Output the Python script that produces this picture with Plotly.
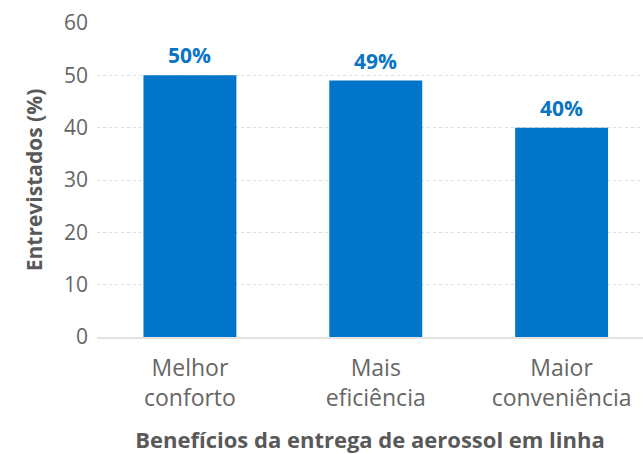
import plotly.graph_objects as go

categories = ["Melhor<br>conforto", "Mais<br>eficiência", "Maior<br>conveniência"]
values = [50, 49, 40]
labels = ["50%", "49%", "40%"]

BLUE = "#0075C9"
FONT = "Open Sans"

fig = go.Figure()
fig.add_trace(go.Bar(
    x=categories, y=values, width=0.5,
    marker=dict(color=BLUE, line=dict(width=0)),
    text=labels, textposition="none", hoverinfo="skip",
))
for c, v, t in zip(categories, values, labels):
    fig.add_annotation(x=c, y=v, text=f"<b>{t}</b>", showarrow=False,
                       yanchor="bottom", yshift=4,
                       font=dict(family=FONT, size=21, color="#0A74C4"))

fig.update_layout(
    width=643, height=454,
    margin=dict(l=97, r=0, t=23, b=117),
    plot_bgcolor="white", paper_bgcolor="white",
    showlegend=False,
    font=dict(family=FONT, color="#666666"),
    xaxis=dict(
        range=[-0.5, 2.438],
        showgrid=False, showline=True, linecolor="#e3e3e3", linewidth=2,
        ticks="", ticklabelstandoff=9,
        tickfont=dict(size=23, color="#666666"),
        title=dict(text="<b>Benefícios da entrega de aerossol em linha</b>",
                   font=dict(size=22, color="#595959"), standoff=23),
    ),
    yaxis=dict(
        range=[0, 60], dtick=10, showline=False, zeroline=False,
        showgrid=True, gridcolor="#dcdcdc", griddash="dot", gridwidth=1,
        ticks="", ticklabelstandoff=8,
        tickfont=dict(size=21, color="#666666"),
        title=dict(text="<b>Entrevistados (%)</b>",
                   font=dict(size=21, color="#595959"), standoff=15),
    ),
    bargap=0.5,
)

fig.write_html("out.html")
